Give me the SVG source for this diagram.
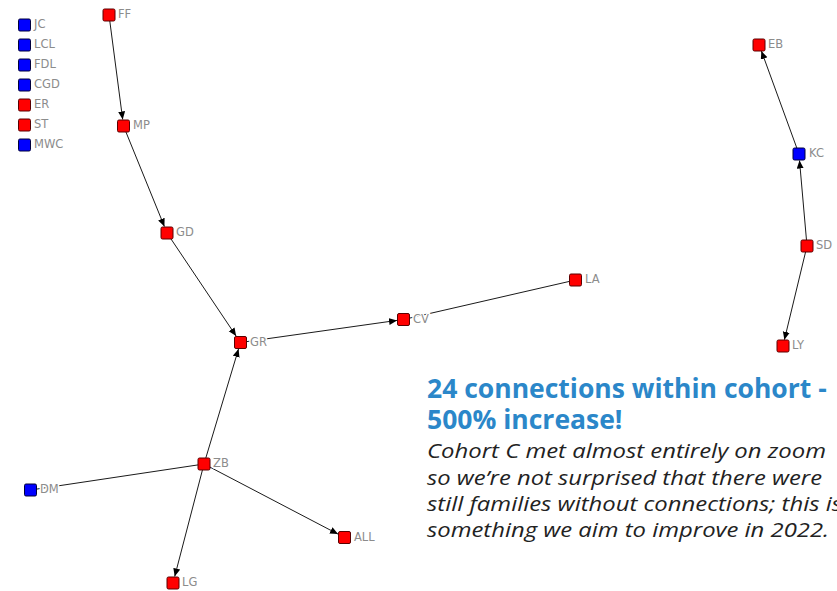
<svg xmlns="http://www.w3.org/2000/svg" width="837" height="591" viewBox="0 0 837 591">
<style>
.bg{fill:#ffffff}
.edge{stroke:#1a1a1a;stroke-width:1;fill:none}
.arr{marker-end:url(#ah)}
.r{fill:#ff0000;stroke:#5a0000;stroke-width:1}
.b{fill:#0000ff;stroke:#00003a;stroke-width:1}
.lbl{font-family:"DejaVu Sans","Liberation Sans",sans-serif;font-size:11.5px;fill:#8c8c8c;stroke:#ffffff;stroke-width:3;paint-order:stroke;stroke-linejoin:round}
.title{font-family:"Open Sans","Liberation Sans",sans-serif;font-weight:bold;font-size:26.5px;fill:#2b87c9}
.body{font-family:"Open Sans","Liberation Sans",sans-serif;font-style:italic;font-size:20.5px;fill:#222222}
</style>
<defs>
<marker id="ah" markerUnits="userSpaceOnUse" markerWidth="10" markerHeight="8" refX="8" refY="3.5" orient="auto">
<path d="M0,0 L8,3.5 L0,7 Z" fill="#000000"/>
</marker>
</defs>
<rect class="bg" x="0" y="0" width="837" height="591"/>
<g id="connectors">
<line class="edge arr" x1="109" y1="15" x2="122.7" y2="119.5"/>
<line class="edge arr" x1="123.5" y1="126" x2="164.4" y2="226.5"/>
<line class="edge arr" x1="167" y1="233" x2="236.1" y2="336"/>
<line class="edge arr" x1="240.5" y1="342.5" x2="397" y2="320.4"/>
<line class="edge" x1="403.5" y1="319.5" x2="575.5" y2="280"/>
<line class="edge arr" x1="204" y1="464" x2="238.5" y2="349"/>
<line class="edge" x1="30.5" y1="490" x2="204" y2="464"/>
<line class="edge arr" x1="204" y1="464" x2="174.7" y2="576.5"/>
<line class="edge arr" x1="204" y1="464" x2="338" y2="534.1"/>
<line class="edge arr" x1="799" y1="154" x2="761.4" y2="51"/>
<line class="edge arr" x1="807" y1="246" x2="799.5" y2="160.5"/>
<line class="edge arr" x1="807" y1="246" x2="784.4" y2="339.8"/>
</g>
<g id="JC"><rect class="b" x="18.5" y="19" width="12" height="12" rx="1.5"/><text class="lbl" x="34" y="28">JC</text></g>
<g id="LCL"><rect class="b" x="18.5" y="39" width="12" height="12" rx="1.5"/><text class="lbl" x="34" y="48">LCL</text></g>
<g id="FDL"><rect class="b" x="18.5" y="59" width="12" height="12" rx="1.5"/><text class="lbl" x="34" y="68">FDL</text></g>
<g id="CGD"><rect class="b" x="18.5" y="79" width="12" height="12" rx="1.5"/><text class="lbl" x="34" y="88">CGD</text></g>
<g id="ER"><rect class="r" x="18.5" y="99" width="12" height="12" rx="1.5"/><text class="lbl" x="34" y="108">ER</text></g>
<g id="ST"><rect class="r" x="18.5" y="119" width="12" height="12" rx="1.5"/><text class="lbl" x="34" y="128">ST</text></g>
<g id="MWC"><rect class="b" x="18.5" y="139" width="12" height="12" rx="1.5"/><text class="lbl" x="34" y="148">MWC</text></g>
<g id="FF"><rect class="r" x="103" y="9" width="12" height="12" rx="1.5"/><text class="lbl" x="118" y="18">FF</text></g>
<g id="MP"><rect class="r" x="117.5" y="120" width="12" height="12" rx="1.5"/><text class="lbl" x="133" y="129">MP</text></g>
<g id="GD"><rect class="r" x="161" y="227" width="12" height="12" rx="1.5"/><text class="lbl" x="176" y="236">GD</text></g>
<g id="GR"><rect class="r" x="234.5" y="336.5" width="12" height="12" rx="1.5"/><text class="lbl" x="250" y="345.5">GR</text></g>
<g id="CV"><rect class="r" x="397.5" y="313.5" width="12" height="12" rx="1.5"/><text class="lbl" x="413" y="322.5">CV</text></g>
<g id="LA"><rect class="r" x="569.5" y="274" width="12" height="12" rx="1.5"/><text class="lbl" x="585" y="283">LA</text></g>
<g id="ZB"><rect class="r" x="198" y="458" width="12" height="12" rx="1.5"/><text class="lbl" x="213" y="467">ZB</text></g>
<g id="DM"><rect class="b" x="24.5" y="484" width="12" height="12" rx="1.5"/><text class="lbl" x="40" y="493">DM</text></g>
<g id="ALL"><rect class="r" x="338.5" y="531.5" width="12" height="12" rx="1.5"/><text class="lbl" x="354" y="540.5">ALL</text></g>
<g id="LG"><rect class="r" x="167" y="577" width="12" height="12" rx="1.5"/><text class="lbl" x="182" y="586">LG</text></g>
<g id="EB"><rect class="r" x="753" y="39" width="12" height="12" rx="1.5"/><text class="lbl" x="768" y="48">EB</text></g>
<g id="KC"><rect class="b" x="793" y="148" width="12" height="12" rx="1.5"/><text class="lbl" x="809" y="157">KC</text></g>
<g id="SD"><rect class="r" x="801" y="240" width="12" height="12" rx="1.5"/><text class="lbl" x="816" y="249">SD</text></g>
<g id="LY"><rect class="r" x="777" y="340" width="12" height="12" rx="1.5"/><text class="lbl" x="792" y="349">LY</text></g>
<g id="caption">
<text class="title" x="427" y="398">24 connections within cohort -</text>
<text class="title" x="427" y="429">500% increase!</text>
<text class="body" x="427" y="458" textLength="399" lengthAdjust="spacingAndGlyphs">Cohort C met almost entirely on zoom</text>
<text class="body" x="427" y="485" textLength="395" lengthAdjust="spacingAndGlyphs">so we’re not surprised that there were</text>
<text class="body" x="427" y="511" textLength="415" lengthAdjust="spacingAndGlyphs">still families without connections; this is</text>
<text class="body" x="427" y="537" textLength="402" lengthAdjust="spacingAndGlyphs">something we aim to improve in 2022.</text>
</g>
</svg>
